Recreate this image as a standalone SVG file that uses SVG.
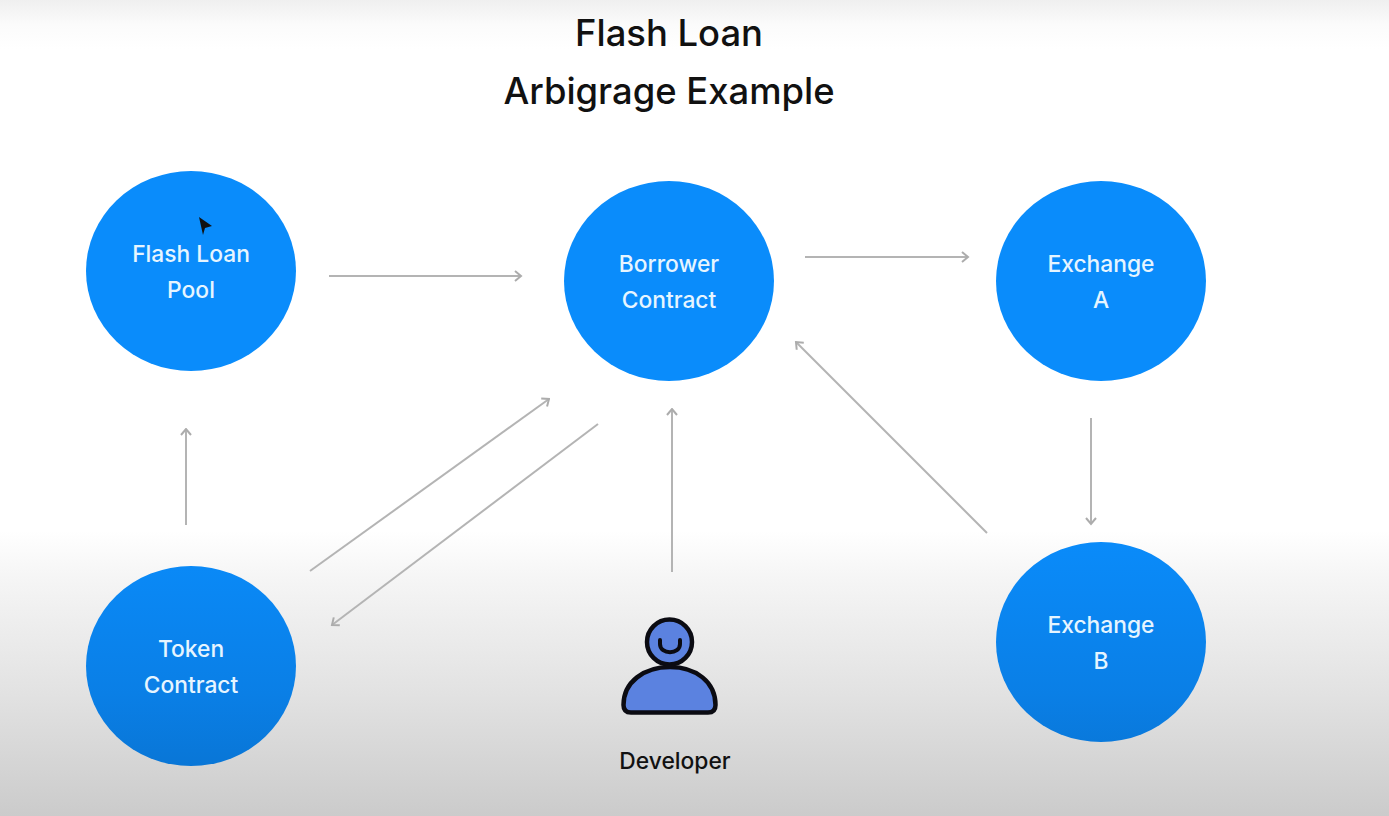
<svg xmlns="http://www.w3.org/2000/svg" width="1389" height="816" viewBox="0 0 1389 816">
<style>
.node{fill:url(#nodefill)}
.nl{font-family:Inter,"Liberation Sans",sans-serif;font-size:22.8px;font-weight:500;fill:#e6f5ff;text-anchor:middle}
.title{font-family:Inter,"Liberation Sans",sans-serif;font-size:36.4px;font-weight:500;fill:#111;text-anchor:middle}
#connectors path{fill:none;stroke:#b4b4b4;stroke-width:2;marker-end:url(#arr)}
</style>
<defs>
<marker id="arr" viewBox="0 0 12 12" refX="10.5" refY="6" markerWidth="12" markerHeight="12" orient="auto" markerUnits="userSpaceOnUse">
<path d="M4.5 1 L10.5 6 L4.5 11" style="fill:none;stroke:#acacac;stroke-width:2;marker-end:none"/>
</marker>
<linearGradient id="bg" x1="0" y1="0" x2="0" y2="1">
<stop offset="0" stop-color="#efefef"/>
<stop offset="0.03" stop-color="#fbfbfb"/>
<stop offset="0.06" stop-color="#fff"/>
<stop offset="0.65" stop-color="#fff"/>
<stop offset="0.71" stop-color="#f5f5f5"/>
<stop offset="0.85" stop-color="#e2e2e2"/>
<stop offset="1" stop-color="#cbcbcb"/>
</linearGradient>
<linearGradient id="nodefill" gradientUnits="userSpaceOnUse" x1="0" y1="0" x2="0" y2="816">
<stop offset="0" stop-color="#0a8cfb"/>
<stop offset="0.65" stop-color="#0a8cfb"/>
<stop offset="0.85" stop-color="#0a7fe6"/>
<stop offset="1" stop-color="#0870cc"/>
</linearGradient>
</defs>
<rect id="background" width="1389" height="816" fill="url(#bg)"/>
<g id="title">
<text class="title" x="669" y="46">Flash Loan</text>
<text class="title" x="669" y="104">Arbigrage Example</text>
</g>
<g id="connectors">
<path d="M329 276H521"/>
<path d="M805 257H968"/>
<path d="M1091 418V524"/>
<path d="M987 533L796 342"/>
<path d="M672 572V409"/>
<path d="M186 525V429"/>
<path d="M310 571L549 399"/>
<path d="M598 424L332 625"/>
</g>
<g id="node-flash-loan-pool">
<ellipse class="node" cx="191" cy="271" rx="105" ry="100"/>
<text class="nl" x="191" y="262">Flash Loan</text>
<text class="nl" x="191" y="298">Pool</text>
</g>
<g id="node-borrower-contract">
<ellipse class="node" cx="669" cy="281" rx="105" ry="100"/>
<text class="nl" x="669" y="272">Borrower</text>
<text class="nl" x="669" y="308">Contract</text>
</g>
<g id="node-exchange-a">
<ellipse class="node" cx="1101" cy="281" rx="105" ry="100"/>
<text class="nl" x="1101" y="272">Exchange</text>
<text class="nl" x="1101" y="308">A</text>
</g>
<g id="node-exchange-b">
<ellipse class="node" cx="1101" cy="642" rx="105" ry="100"/>
<text class="nl" x="1101" y="633">Exchange</text>
<text class="nl" x="1101" y="669">B</text>
</g>
<g id="node-token-contract">
<ellipse class="node" cx="191" cy="666" rx="105" ry="100"/>
<text class="nl" x="191" y="657">Token</text>
<text class="nl" x="191" y="693">Contract</text>
</g>
<g id="node-developer">
<circle cx="669.5" cy="642" r="22.5" fill="#5b82e0" stroke="#0b0b12" stroke-width="4.5"/>
<path d="M623.5 705C623.5 682 644 667 670 667C696 667 715.5 682 715.5 705Q715.5 712.500 708 712.500H631Q623.5 712.500 623.5 705Z" fill="#5b82e0" stroke="#0b0b12" stroke-width="4.5" stroke-linejoin="round"/>
<path d="M660 640V644C660 655 680 655 680 644V640" fill="none" stroke="#0b0b12" stroke-width="4" stroke-linecap="round"/>
<text x="675" y="769" font-family="Inter,'Liberation Sans',sans-serif" font-size="22.8" font-weight="500" fill="#111" text-anchor="middle">Developer</text>
</g>
<path id="cursor" d="M199 217L212 226L205 228L203 235Z" fill="#111"/>
</svg>
